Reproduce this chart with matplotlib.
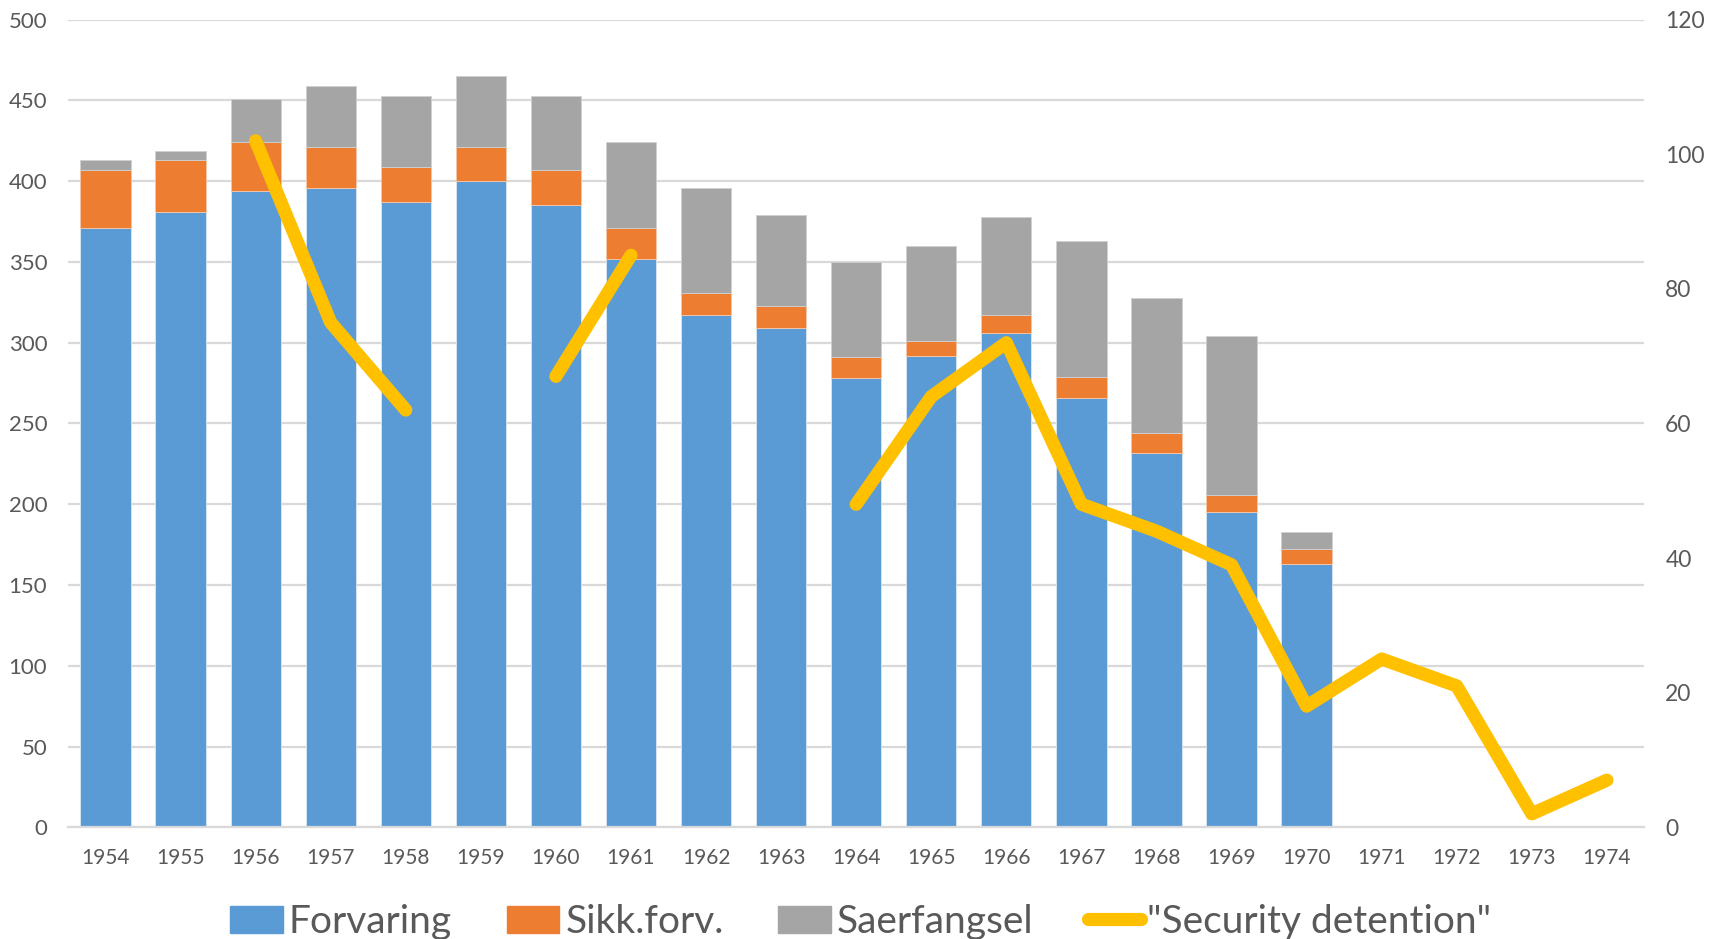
import numpy as np
import matplotlib.pyplot as plt
from matplotlib.lines import Line2D
from matplotlib.patches import Patch

plt.rcParams['font.family'] = ['Lato', 'DejaVu Sans']

# Data
years = list(range(1954, 1975))
forvaring = [371, 381, 394, 396, 387, 400, 385, 352, 317, 309, 278, 292, 306, 266, 232, 195, 163,
             0, 0, 0, 0]
sikk_forv = [36, 32, 30, 25, 22, 21, 22, 19, 14, 14, 13, 9, 11, 13, 12, 11, 9,
             0, 0, 0, 0]
saerfangsel = [6, 6, 27, 38, 44, 44, 46, 53, 65, 56, 59, 59, 61, 84, 84, 98, 11,
               0, 0, 0, 0]
security = [np.nan, np.nan, 102, 75, 62, np.nan, 67, 85, np.nan, np.nan, 48, 64, 72, 48, 44, 39, 18,
            25, 21, 2, 7]

c_blue = "#5B9BD5"
c_orange = "#ED7D31"
c_gray = "#A5A5A5"
c_yellow = "#FFC000"
c_text = "#595959"
c_grid = "#D9D9D9"

fig = plt.figure(figsize=(17.21, 9.39), dpi=100)
ax = fig.add_axes([0.0395, 0.119, 0.916, 0.86])

x = np.arange(len(years))
w = 0.67
f = np.array(forvaring)
s = np.array(sikk_forv)
g = np.array(saerfangsel)
ax.bar(x, f, w, color=c_blue, edgecolor="#DDE8F3", linewidth=0.6, zorder=2)
ax.bar(x, s, w, bottom=f, color=c_orange, edgecolor="#F5C6A8", linewidth=0.6, zorder=2)
ax.bar(x, g, w, bottom=f + s, color=c_gray, edgecolor="#D0D0D0", linewidth=0.6, zorder=2)

ax.set_ylim(0, 500)
ax.set_xlim(-0.5, len(years) - 0.5)
ax.set_yticks(range(0, 501, 50))
ax.set_xticks(x)
ax.set_xticklabels([str(y) for y in years])
ax.yaxis.grid(True, color=c_grid, linewidth=1.6, zorder=0)
ax.set_axisbelow(True)
for sp in ["top", "right", "left"]:
    ax.spines[sp].set_visible(False)
ax.spines["bottom"].set_color(c_grid)
ax.spines["bottom"].set_linewidth(1.6)
ax.tick_params(axis="y", length=0, pad=15, labelsize=16, labelcolor=c_text)
ax.tick_params(axis="x", length=0, pad=15, labelsize=15, labelcolor=c_text)

ax2 = ax.twinx()
ax2.set_ylim(0, 120)
ax2.set_yticks(range(0, 121, 20))
ax2.plot(x, security, color=c_yellow, linewidth=9.5, solid_capstyle="round",
         solid_joinstyle="round", zorder=3)
for sp in ["top", "right", "left", "bottom"]:
    ax2.spines[sp].set_visible(False)
ax2.tick_params(axis="y", length=0, pad=15, labelsize=16.5, labelcolor=c_text)

handles = [Patch(color=c_blue), Patch(color=c_orange), Patch(color=c_gray),
           Line2D([0], [0], color=c_yellow, linewidth=9.5, solid_capstyle="round")]
labels = ["Forvaring", "Sikk.forv.", "Saerfangsel", '"Security detention"']
leg = fig.legend(handles, labels, loc="center", bbox_to_anchor=(0.5, 0.018), ncol=4,
                 frameon=False, fontsize=28, handlelength=1.36, handleheight=0.7,
                 handletextpad=0.15, columnspacing=1.4)
for t in leg.get_texts():
    t.set_color(c_text)

fig.savefig("out.png", dpi=100)
